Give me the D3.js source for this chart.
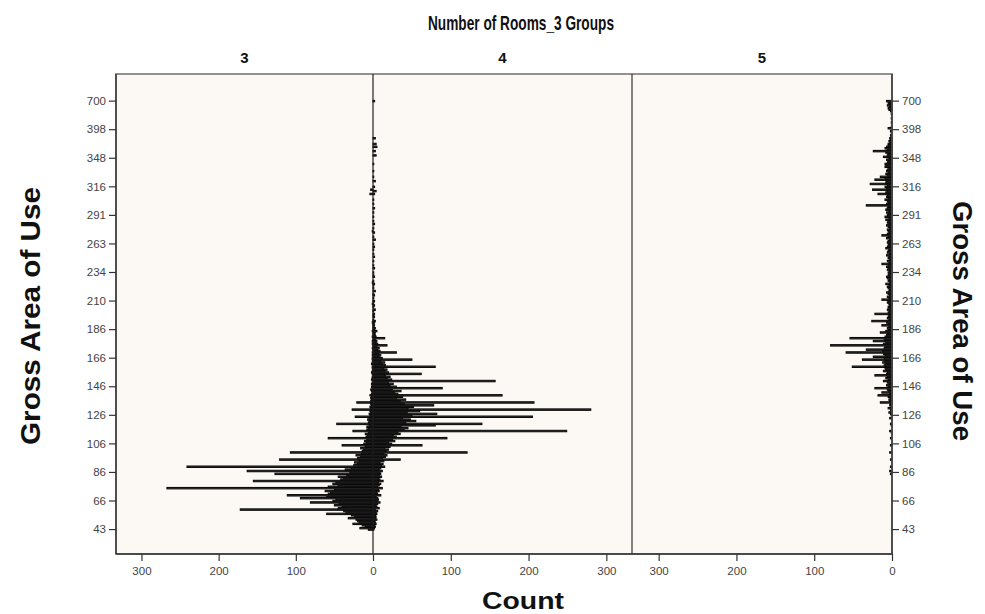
<!DOCTYPE html>
<html><head><meta charset="utf-8">
<script src="https://cdn.jsdelivr.net/npm/d3@7/dist/d3.min.js"></script>
<style>
html,body{margin:0;padding:0;background:#fff;}
svg{display:block;}
text{font-family:"Liberation Sans",Arial,sans-serif;}
</style></head>
<body>
<svg id="chart" width="985" height="614"></svg>
<script>
// ---- DATA ----
const chartTitle = "Number of Rooms_3 Groups";
const groups = ["3", "4", "5"];
const yTitle = "Gross Area of Use";
const xTitle = "Count";

// Gross Area of Use categories (bottom to top)
const areaLevels = [
  43,45,47,48,50,51,52,53,54,55,56,57,58,59,60,61,62,63,64,65,
  66,67,68,69,70,71,72,73,74,75,76,77,78,79,80,81,82,83,84,85,
  86,87,88,89,90,91,92,93,94,95,96,97,98,99,100,101,102,103,104,105,
  106,107,108,109,110,111,112,113,114,115,116,117,118,119,120,121,122,123,124,125,
  126,127,128,129,130,131,132,133,134,135,136,137,138,139,140,141,142,143,144,145,
  146,147,148,149,150,151,152,153,154,155,156,157,158,159,160,161,162,163,164,165,
  166,167,168,169,170,171,172,173,174,175,176,177,178,179,180,181,182,183,184,185,
  186,187,188,189,190,191,192,194,195,196,197,198,200,201,202,203,204,205,206,208,
  210,211,212,213,214,215,216,218,219,220,221,222,224,225,226,227,228,230,232,233,
  234,235,236,237,238,240,241,242,244,245,246,248,250,252,253,254,255,256,258,260,
  263,264,265,266,267,268,270,271,272,274,275,276,278,280,281,282,284,285,286,288,
  291,292,293,294,295,296,297,298,300,301,302,304,305,306,307,308,310,312,313,314,
  316,318,319,320,322,323,324,325,326,328,330,332,333,334,335,336,338,340,342,345,
  348,350,352,353,355,356,358,360,362,364,365,368,370,372,375,378,380,385,390,395,
  398,400,405,410,415,420,425,430,440,450,460,470,480,500,520,550,580,600,630,650,
  700
];

// Counts per category, group "3"
const count3 = [
  6,17,10,14,26,18,20,22,32,24,
  28,60,35,38,172,45,40,50,44,81,
  52,48,94,60,111,58,55,62,50,267,
  58,45,52,48,155,42,38,45,34,127,
  30,163,36,28,241,25,20,24,18,121,
  20,16,22,15,107,14,12,16,10,40,
  12,9,11,8,58,9,7,10,6,26,
  8,6,8,5,47,6,4,7,5,23,
  4,5,3,4,27,3,4,2,3,21,
  3,2,3,2,4,2,1,2,3,1,
  2,1,2,1,0,2,1,1,0,1,
  2,1,0,1,1,0,2,1,0,1,
  1,0,1,0,1,0,0,1,0,0,
  1,0,1,0,0,1,0,0,0,1,
  0,0,0,0,0,1,0,0,0,0,
  0,0,0,0,0,0,0,0,1,0,
  0,0,0,0,0,0,0,0,0,0,
  0,0,0,1,0,0,0,0,0,0,
  0,0,0,0,0,0,0,0,0,0,
  0,0,0,0,0,0,0,0,0,0,
  0,0,0,0,0,0,0,0,0,1,
  0,0,0,0,0,0,0,0,0,0,
  0,0,0,0,0,0,0,0,0,0,
  0,0,0,0,0,4,0,0,3,0,
  0,0,0,0,0,0,0,0,0,0,
  0,0,0,0,0,0,0,0,0,0,
  0,0,0,0,0,0,0,0,0,0,
  0,0,0,0,0,0,0,0,0,0,
  0,0,0,0,0,0,0,0,0,0,
  0,0,0,0,0,0,0,0,0,0,
  0
];

// Counts per category, group "4"
const count4 = [
  1,2,3,2,4,3,2,5,3,4,
  3,5,4,6,3,8,5,4,6,9,
  5,7,6,4,10,6,5,8,7,12,
  6,8,10,7,13,9,7,11,8,10,
  9,12,8,10,15,11,13,9,14,35,
  12,16,18,14,121,17,20,15,22,63,
  24,20,28,25,95,30,26,35,32,249,
  40,45,36,80,140,42,55,48,38,205,
  50,82,44,60,280,45,52,78,40,207,
  35,42,30,38,166,32,28,36,25,89,
  30,22,26,20,157,24,18,22,16,62,
  20,15,18,14,80,16,12,15,10,50,
  12,8,10,7,30,9,6,8,5,18,
  6,4,5,3,15,4,3,2,3,5,
  2,3,1,2,1,2,3,1,0,2,
  1,2,0,1,3,0,1,2,0,1,
  2,0,1,0,2,1,0,3,0,1,
  0,1,2,0,1,0,0,2,1,0,
  1,0,0,2,0,1,0,0,1,0,
  0,2,0,1,0,0,1,0,2,0,
  1,0,0,3,0,1,0,0,2,0,
  0,1,0,0,2,0,1,0,0,1,
  0,0,1,0,0,2,0,0,1,0,
  0,1,0,0,0,2,0,4,0,0,
  2,0,0,0,3,0,0,1,0,0,
  0,1,0,0,0,0,1,0,0,0,
  0,0,4,0,0,3,0,0,5,0,
  4,0,0,0,3,0,0,0,0,0,
  0,0,0,0,0,0,0,0,0,0,
  0,0,0,0,0,0,0,0,0,0,
  2
];

// Counts per category, group "5"
const count5 = [
  0,0,0,0,0,0,0,0,0,0,
  0,0,0,0,0,0,0,0,0,0,
  0,0,0,0,0,0,0,0,0,0,
  0,0,0,0,0,0,0,0,0,2,
  0,3,0,0,2,0,0,0,0,2,
  0,0,0,0,3,0,0,0,0,2,
  0,0,0,0,2,0,0,0,1,3,
  0,0,0,1,2,0,0,0,3,0,
  1,2,4,1,2,5,1,3,2,15,
  3,4,2,5,18,3,13,4,6,22,
  5,7,4,6,11,5,8,6,22,7,
  6,11,8,9,51,10,8,12,9,38,
  10,24,9,11,59,12,33,10,9,79,
  11,8,24,10,54,9,7,6,15,8,
  5,6,4,13,5,7,26,4,6,5,
  4,22,5,3,6,4,5,3,4,6,
  5,13,4,6,3,5,7,4,3,5,
  6,4,8,3,5,4,6,7,5,4,
  5,3,6,4,7,5,13,4,6,3,
  5,4,7,3,6,5,4,8,6,5,
  4,6,5,3,7,5,13,6,4,5,
  6,3,5,7,4,6,5,8,4,9,
  6,5,7,4,8,6,5,33,7,5,
  6,9,5,7,6,18,8,6,25,7,
  9,6,28,8,7,22,9,15,6,8,
  5,7,6,4,9,8,9,6,5,7,
  4,11,6,5,8,24,6,9,7,5,
  5,3,4,2,3,1,2,0,1,2,
  0,5,1,0,0,1,0,0,1,0,
  0,1,0,2,4,5,3,6,4,5,
  7
];

const yTickLabels = ["43","66","86","106","126","146","166","186","210","234","263","291","316","348","398","700"];
const xTicks3 = [0,100,200,300];
const xTicks4 = [100,200,300];
const xTicks5 = [0,100,200,300];
const xMax = 333;

// ---- LAYOUT ----
const svg = d3.select("#chart");
const L = 116, R = 892, T = 74, B = 554;
const mid1 = 373, mid2 = 632;

const y = d3.scaleBand()
  .domain(areaLevels.map(String))
  .range([B, T])
  .paddingInner(0)
  .paddingOuter(17.55)
  .align(0.527);

const x3 = d3.scaleLinear().domain([0, xMax]).range([mid1, L]);
const x4 = d3.scaleLinear().domain([0, xMax]).range([mid1, mid2]);
const x5 = d3.scaleLinear().domain([0, xMax]).range([R, mid2 + 1]);

// plot background
svg.append("rect").attr("x", L).attr("y", T).attr("width", R - L).attr("height", B - T)
  .attr("fill", "#fcf9f4");

const tickFont = 11.5, tickColor = "#444";

function bars(data, xs, cls) {
  const rows = areaLevels.map((a, i) => ({a: String(a), v: data[i]})).filter(d => d.v > 0);
  svg.append("g").attr("class", cls).selectAll("rect").data(rows).join("rect")
    .attr("x", d => Math.min(xs(0), xs(d.v)))
    .attr("width", d => Math.abs(xs(d.v) - xs(0)))
    .attr("y", d => y(d.a))
    .attr("height", y.bandwidth())
    .attr("fill", "#444")
    .attr("stroke", "#0a0a0a")
    .attr("stroke-width", 1.05);
}
bars(count3, x3, "g3");
bars(count4, x4, "g4");
bars(count5, x5, "g5");

// frame & separators
svg.append("rect").attr("x", L).attr("y", T).attr("width", R - L).attr("height", B - T)
  .attr("fill", "none").attr("stroke", "#777").attr("stroke-width", 1.6);
svg.append("line").attr("x1", mid1).attr("x2", mid1).attr("y1", T).attr("y2", B)
  .attr("stroke", "#222").attr("stroke-width", 1.2);
svg.append("line").attr("x1", mid2).attr("x2", mid2).attr("y1", T).attr("y2", B)
  .attr("stroke", "#333").attr("stroke-width", 1.2);
[[L, B, R, B], [L, T, L, B], [R, T, R, B]].forEach(c => {
  svg.append("line").attr("x1", c[0]).attr("y1", c[1]).attr("x2", c[2]).attr("y2", c[3])
    .attr("stroke", "#333").attr("stroke-width", 1.4);
});

// axes
function styleAxis(g) {
  g.select(".domain").remove();
  g.selectAll(".tick line").attr("stroke", "#333").attr("stroke-width", 1.2);
  g.selectAll(".tick text").attr("font-size", tickFont).attr("fill", tickColor)
    .attr("font-family", "'Liberation Sans', Arial, sans-serif");
}
svg.append("g").attr("transform", `translate(${L},0)`)
  .call(d3.axisLeft(y).tickValues(yTickLabels).tickSize(7).tickPadding(3)).call(styleAxis);
svg.append("g").attr("transform", `translate(${R},0)`)
  .call(d3.axisRight(y).tickValues(yTickLabels).tickSize(7).tickPadding(3)).call(styleAxis);

svg.append("g").attr("transform", `translate(0,${B})`)
  .call(d3.axisBottom(x3).tickValues(xTicks3).tickSize(7).tickPadding(6)).call(styleAxis);
svg.append("g").attr("transform", `translate(0,${B})`)
  .call(d3.axisBottom(x4).tickValues(xTicks4).tickSize(7).tickPadding(6)).call(styleAxis);
svg.append("g").attr("transform", `translate(0,${B})`)
  .call(d3.axisBottom(x5).tickValues(xTicks5).tickSize(7).tickPadding(6)).call(styleAxis);

// titles
svg.append("text").attr("x", 521).attr("y", 30).attr("text-anchor", "middle")
  .attr("font-size", 21).attr("font-weight", "bold").attr("fill", "#111")
  .attr("textLength", 186).attr("lengthAdjust", "spacingAndGlyphs").text(chartTitle);
const panelCenters = [(L + mid1) / 2, (mid1 + mid2) / 2, (mid2 + R) / 2];
groups.forEach((g, i) => {
  svg.append("text").attr("x", panelCenters[i]).attr("y", 63).attr("text-anchor", "middle")
    .attr("font-size", 15).attr("font-weight", "bold").attr("fill", "#111").text(g);
});
svg.append("text").attr("x", 523).attr("y", 609).attr("text-anchor", "middle")
  .attr("font-size", 24).attr("font-weight", "bold").attr("fill", "#111")
  .attr("textLength", 82).attr("lengthAdjust", "spacingAndGlyphs").text(xTitle);
svg.append("text").attr("transform", "translate(40,316) rotate(-90)").attr("text-anchor", "middle")
  .attr("font-size", 27).attr("font-weight", "bold").attr("fill", "#111")
  .attr("textLength", 258).attr("lengthAdjust", "spacingAndGlyphs").text(yTitle);
svg.append("text").attr("transform", "translate(953,321) rotate(90)").attr("text-anchor", "middle")
  .attr("font-size", 27).attr("font-weight", "bold").attr("fill", "#111")
  .attr("textLength", 240).attr("lengthAdjust", "spacingAndGlyphs").text(yTitle);
</script>
</body></html>
